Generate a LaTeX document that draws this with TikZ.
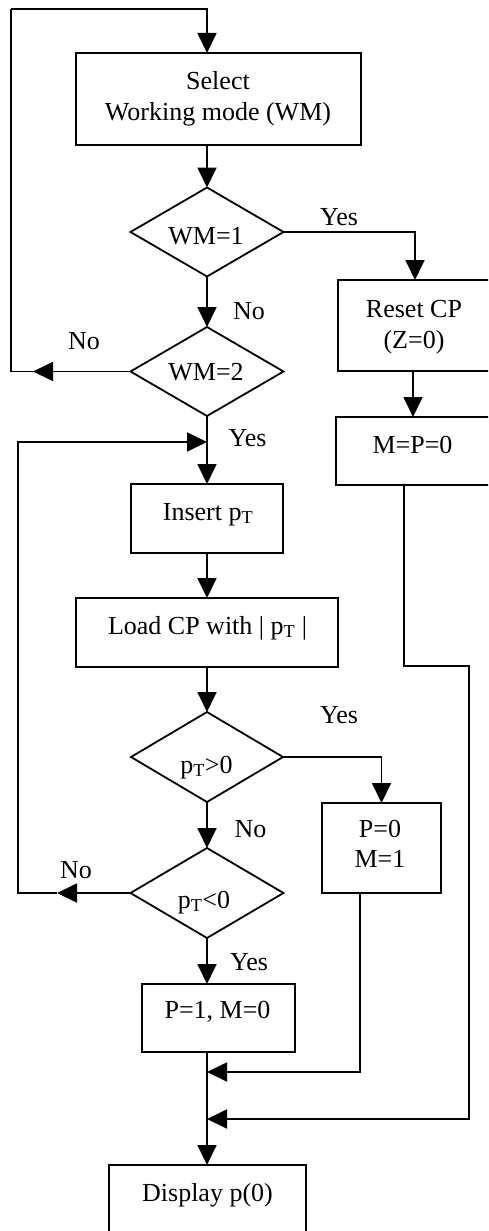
\documentclass[tikz,border=0pt]{standalone}
\usepackage{fontspec}
\setmainfont{Liberation Serif}
\usetikzlibrary{arrows.meta,shapes.geometric}
\begin{document}
\begin{tikzpicture}[x=1pt,y=-1pt,
  every node/.style={inner sep=0pt, outer sep=0pt},
  ln/.style={line width=1.8pt},
  arr/.style={line width=1.8pt, -{Triangle[length=20pt,width=19pt]}},
  box/.style={draw, line width=1.8pt, rectangle},
  dia/.style={draw, line width=1.8pt, diamond},
  txt/.style={anchor=base, font=\fontsize{26}{31}\selectfont},
]
\useasboundingbox (0,0) rectangle (488,1231);
\fill[white] (0,0) rectangle (488,1231);
\clip (0,0) rectangle (488,1231);

% boxes
\node[box, minimum width=285pt, minimum height=92pt] (sel) at (218.5,99) {};
\node[dia, minimum width=153pt, minimum height=89pt] (d1) at (207,232) {};
\node[dia, minimum width=153pt, minimum height=89pt] (d2) at (207,371.5) {};
\node[box, minimum width=157pt, minimum height=91pt] (rst) at (416.5,325.5) {};
\node[box, minimum width=159pt, minimum height=68pt] (mp) at (415.5,451) {};
\node[box, minimum width=152pt, minimum height=69pt] (ins) at (207,518.5) {};
\node[box, minimum width=262pt, minimum height=69pt] (load) at (207,632.5) {};
\node[dia, minimum width=152pt, minimum height=90pt] (d3) at (207,757) {};
\node[dia, minimum width=153pt, minimum height=90pt] (d4) at (207,893) {};
\node[box, minimum width=119pt, minimum height=90pt] (p0) at (381.5,848) {};
\node[box, minimum width=153pt, minimum height=68pt] (p1) at (218.5,1018) {};
\node[box, minimum width=197pt, minimum height=115pt] (disp) at (207.5,1222.5) {};

% texts
\node[txt] (tSel1) at (218,89) {Select};
\node[txt] (tSel2) at (218,120) {Working mode (WM)};
\node[txt] (tD1) at (206,244) {WM=1};
\node[txt] (tD2) at (206,380) {WM=2};
\node[txt] (tRst1) at (414,317) {Reset CP};
\node[txt] (tRst2) at (414,348) {(Z=0)};
\node[txt] (tMP) at (412.5,453) {M=P=0};
\node[txt] (tIns) at (208,520) {Insert p\textsubscript{T}};
\node[txt] (tLoad) at (207.5,634) {Load CP with | p\textsubscript{T} |};
\node[txt] (tD3) at (206.5,773) {p\textsubscript{T}>0};
\node[txt] (tD4) at (204,908) {p\textsubscript{T}<0};
\node[txt] (tP01) at (380,837) {P=0};
\node[txt] (tP02) at (380,867) {M=1};
\node[txt] (tP1) at (217.5,1018) {P=1, M=0};
\node[txt] (tDisp) at (207.5,1201) {Display p(0)};

% labels
\node[txt] (yes1) at (339,225) {Yes};
\node[txt] (no1) at (249,319) {No};
\node[txt] (no2) at (84,349) {No};
\node[txt] (yes2) at (247.5,446) {Yes};
\node[txt] (yes3) at (339,723) {Yes};
\node[txt] (no3) at (250.5,837) {No};
\node[txt] (no4) at (76,878) {No};
\node[txt] (yes4) at (249,970) {Yes};

% helper coordinates
\coordinate (selin) at (207,53);
\coordinate (tipA) at (33,371.5);
\coordinate (cA1) at (11,371.5);
\coordinate (cA2) at (11,9);
\coordinate (xb) at (415,0);
\coordinate (xa) at (413,0);
\coordinate (tipB) at (57,893);
\coordinate (cB1) at (18,893);
\coordinate (cB2) at (18,442);
\coordinate (jB) at (207,442);
\coordinate (xp0) at (360,0);
\coordinate (cC1) at (360,1072);
\coordinate (m1) at (207,1072);
\coordinate (xmp) at (404,0);
\coordinate (cD1) at (404,666);
\coordinate (cD2) at (469,666);
\coordinate (cD3) at (469,1119);
\coordinate (m2) at (207,1119);

% connectors
\draw[arr] (cA2) -| (selin);
\draw[arr] (sel.south -| d1.north) -- (d1.north);
\draw[arr] (d1.south) -- (d2.north);
\draw[arr] (d1.east) -| (rst.north -| xb);
\draw[arr] (rst.south -| xa) -- (mp.north -| xa);
\draw[arr] (d2.west) -- (tipA);
\draw[ln] (tipA) -- (cA1) -- (cA2);
\draw[arr] (d2.south) -- (ins.north);
\draw[arr] (ins.south) -- (load.north);
\draw[arr] (load.south) -- (d3.north);
\draw[arr] (d3.east) -| (p0.north);
\draw[arr] (d3.south) -- (d4.north);
\draw[arr] (d4.west) -- (tipB);
\draw[arr] (tipB) -- (cB1) -- (cB2) -- (jB);
\draw[arr] (d4.south) -- (d4.south |- p1.north);
\draw[arr] (p1.south -| d4.south) -- (disp.north -| d4.south);
\draw[arr] (p0.south -| xp0) -- (cC1) -- (m1);
\draw[arr] (mp.south -| xmp) -- (cD1) -- (cD2) -- (cD3) -- (m2);
\end{tikzpicture}
\end{document}
